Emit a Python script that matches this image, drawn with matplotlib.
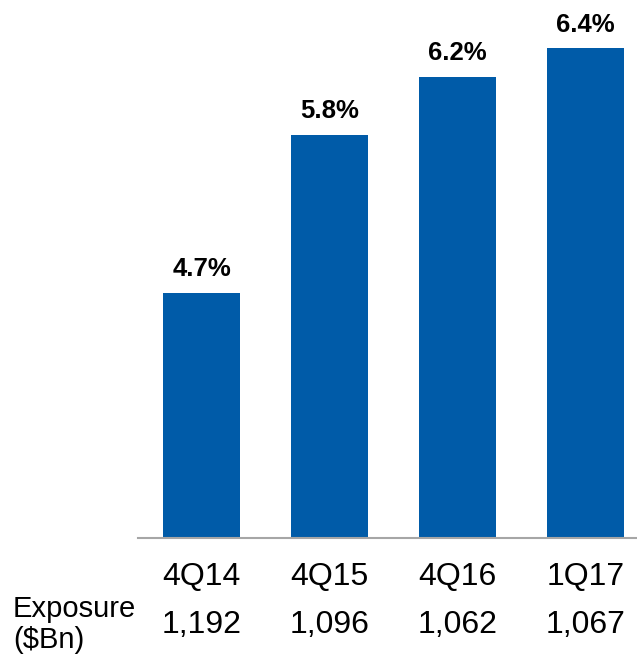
import matplotlib
matplotlib.use("Agg")
import matplotlib.pyplot as plt
from matplotlib.transforms import blended_transform_factory

categories = ["4Q14", "4Q15", "4Q16", "1Q17"]
values = [4.7, 5.8, 6.2, 6.4]
value_labels = ["4.7%", "5.8%", "6.2%", "6.4%"]
exposure = ["1,192", "1,096", "1,062", "1,067"]

plt.rcParams['font.family'] = ['Liberation Sans', 'DejaVu Sans']

W, H = 637, 655
fig = plt.figure(figsize=(W / 100, H / 100), dpi=100)
base_px = 538
ax = fig.add_axes([138 / W, (H - base_px) / H, 1 - 138 / W, base_px / H])

x = list(range(len(categories)))
ax.bar(x, [v - 3.0 for v in values], bottom=3.0, width=0.6, color="#005BA8")
ax.set_xlim(-0.496, 3.40)
ax.set_ylim(3.0, 3.0 + base_px / 144.0)

for xi, v, lab in zip(x, values, value_labels):
    ax.annotate(lab, (xi, v), xytext=(0, 8.5), textcoords="offset points",
                ha="center", va="bottom", fontsize=18.5, fontweight="bold", color="black")

for s in ["top", "right", "left"]:
    ax.spines[s].set_visible(False)
ax.spines["bottom"].set_color("#A6A6A6")
ax.spines["bottom"].set_linewidth(1.5)
ax.set_xticks([])
ax.set_yticks([])
ax.patch.set_alpha(0)

tr = blended_transform_factory(ax.transData, fig.transFigure)
for xi, c, e in zip(x, categories, exposure):
    ax.text(xi, 1 - 577 / H, c, transform=tr, ha="center", va="center", fontsize=23, color="black")
    ax.text(xi, 1 - 625 / H, e, transform=tr, ha="center", va="center", fontsize=23, color="black")

fig.text(13 / W, 1 - 609 / H, "Exposure", ha="left", va="center", fontsize=21, color="black")
fig.text(13 / W, 1 - 640 / H, "($Bn)", ha="left", va="center", fontsize=21, color="black")

fig.savefig("out.png", dpi=100)
